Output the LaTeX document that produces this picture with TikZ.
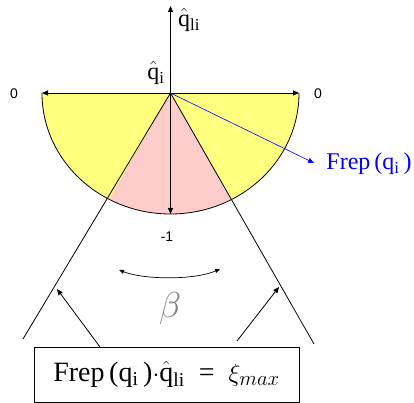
\documentclass[tikz,border=0pt]{standalone}
\usepackage{fontspec}
\setmainfont{Liberation Serif}
\setmathrm{Liberation Serif}
\newfontfamily\labfont{Liberation Sans}
\usetikzlibrary{arrows.meta}
\definecolor{ylw}{RGB}{255,255,128}
\definecolor{pnk}{RGB}{255,204,204}
\definecolor{frepblue}{RGB}{0,0,255}
\definecolor{betagray}{RGB}{128,128,128}
\begin{document}
\begin{tikzpicture}[x=1pt,y=1pt,line width=0.8pt,
  tip/.style={-{Triangle[length=6pt,width=5pt]}},
  lab/.style={font=\labfont\fontsize{14}{16}\selectfont,inner sep=0pt},
  big/.style={font=\fontsize{24}{28}\selectfont,inner sep=0pt},
  eqbox/.style={draw,line width=0.8pt,minimum width=265pt,minimum height=55pt,inner sep=0pt,font=\fontsize{28}{32}\selectfont}]
\useasboundingbox (0,0) rectangle (414,403);
\coordinate (O) at (170.5,310);
\coordinate (L0) at (42,310);
\coordinate (R0) at (299,310);
\coordinate (Top) at (170.5,397);
\coordinate (Bot) at (170.5,189);
\coordinate (PL) at (109.1,203.7);
\coordinate (Lend) at (23,64);
\coordinate (Rend) at (314,59);
\coordinate (Fend) at (314,240);
% yellow half ellipse
\fill[ylw] (O) -- (L0) arc[start angle=180,end angle=360,x radius=128.5,y radius=121] -- cycle;
% pink sector
\fill[pnk] (O) -- (PL) arc[start angle=241.5,end angle=298.5,x radius=128.5,y radius=121] -- cycle;
\draw (L0) arc[start angle=180,end angle=360,x radius=128.5,y radius=121];
% sector edges
\draw (O) -- (Lend);
\draw (O) -- (Rend);
% axes
\draw[tip] (O) -- (L0);
\draw[tip] (O) -- (R0);
\draw[tip] (O) -- (Top);
\draw[tip] (O) -- (Bot);
\draw[tip,frepblue,line width=0.6pt] (O) -- (Fend);
% labels
\node[lab] (z1) at (14,309) {0};
\node[lab] (z2) at (318,309) {0};
\node[lab] (m1) at (167,166) {-1};
\node[big] (qi) at (156,330) {$\hat{\mathrm{q}}_{\mathrm{i}}$};
\node[big] (qli) at (189,383) {$\hat{\mathrm{q}}_{\mathrm{li}}$};
\node[big,text=frepblue] (frep) at (369,239) {Frep\,(q$_{\mathrm{i}}$\,)};
\node[font=\fontsize{24}{28}\selectfont,scale=1.45,text=betagray,inner sep=0pt] (beta) at (170,95) {$\beta$};
% curved double arrow
\coordinate (cl) at (119,133);
\coordinate (cr) at (220,134);
\draw[line width=0.7pt,{Triangle[length=5pt,width=4pt]}-{Triangle[length=5pt,width=4pt]}] (cl) .. controls (145,123) and (195,123) .. (cr);
% equation box
\node[eqbox] (box) at (166.5,28.5) {Frep\,(q$_{\mathrm{i}}$\,)$\cdot\hat{\mathrm{q}}_{\mathrm{li}}$ \ = \ $\xi_{max}$};
\coordinate (la) at (100,56);
\coordinate (ra) at (237,62);
\coordinate (lt) at (57,114);
\coordinate (rt) at (279,116);
\draw[tip] (la) -- (lt);
\draw[tip] (ra) -- (rt);
\end{tikzpicture}
\end{document}
